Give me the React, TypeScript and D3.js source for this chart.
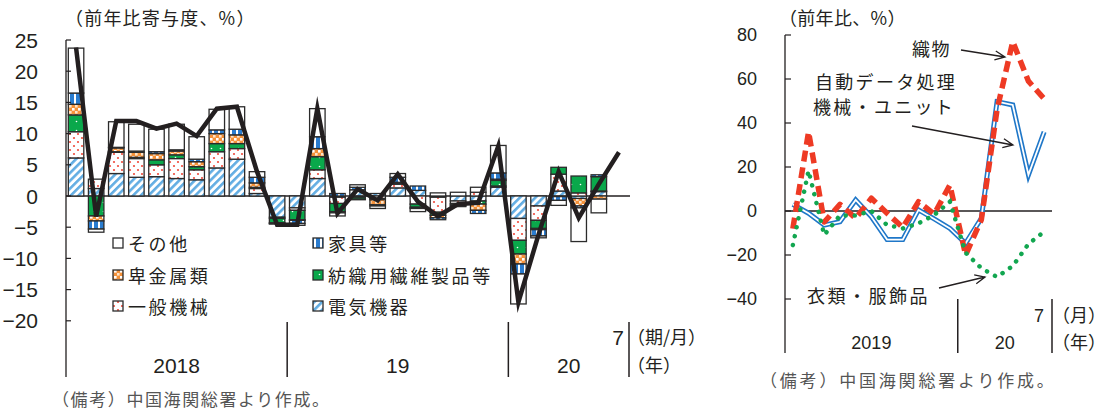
import React from "react";
import * as d3 from "d3";

// ---------- Left chart data (前年比寄与度, %) ----------
const periodsL = [
  "18/1-2", "18/3", "18/4", "18/5", "18/6", "18/7", "18/8", "18/9", "18/10", "18/11", "18/12",
  "19/1-2", "19/3", "19/4", "19/5", "19/6", "19/7", "19/8", "19/9", "19/10", "19/11", "19/12",
  "20/1-2", "20/3", "20/4", "20/5", "20/6", "20/7",
];
const yearsL = ["2018", "19", "20"];
const yearCountsL = [11, 11, 6];

// 電気機器
const elec = [6.1, 1.2, 3.6, 3.0, 3.1, 2.8, 2.6, 4.5, 5.9, 0.4, -3.4, -1.9, 2.8, -0.2, 1.0, 0.4, 1.3, 0.9, -0.2, -0.8, -0.8, 1.4, -3.6, -1.6, 0.8, -0.4, 0.7, 0];
// 一般機械
const mach = [4.2, 1.5, 3.4, 3.0, 1.9, 3.2, 1.6, 2.6, 1.7, 0.8, -0.2, -0.4, 1.4, -1.0, -0.2, -0.4, 0.6, -1.3, -2.4, -0.4, 0.6, 0.2, -3.5, -2.3, 2.7, 0.5, 0.1, 0];
// 紡織用繊維製品等
const textile = [2.7, -3.2, 0.1, 0.2, 0.8, 0.6, 0.5, 1.3, 0.8, 0.2, -0.7, -1.5, 2.1, -1.3, -0.3, -0.2, 0.1, -0.5, -0.5, -0.2, -0.5, 0.9, -2.2, -1.3, 1.1, 2.7, 2.3, 0];
// 卑金属類
const metal = [1.7, -0.8, 0.6, 0.8, 1.0, 0.6, 0.8, 1.6, 1.4, 0.7, -0.1, -0.1, 1.3, -0.2, -0.1, -0.8, 0.2, -0.2, -0.4, -0.2, -1.0, 0.2, -1.6, -0.2, -0.1, -1.2, -0.5, 0];
// 家具等
const furn = [1.8, -1.3, 0.1, 0.2, 0.3, 0.2, 0.4, 0.6, 0.9, 0.9, -0.1, -0.5, 1.9, 0.4, 0.4, -0.2, 0.8, 0.7, -0.3, -0.1, -0.5, 1.0, -1.6, -1.0, -0.6, -0.3, 0.3, 0];
// その他
const other = [7.2, -0.5, 4.1, 4.3, 3.6, 4.1, 3.6, 3.3, 3.6, 0.9, 0, -0.3, 4.5, -0.5, 0.4, -0.4, 0.6, -0.5, 0.5, 0.6, 0.8, 4.4, -4.8, -0.3, -0.8, -5.4, -2.2, 0];
// 合計 (line)
const totalL = [23.8, -3.3, 12.0, 12.0, 10.8, 11.6, 9.6, 14.0, 14.3, 3.9, -4.6, -4.6, 14.0, -2.8, 1.1, -0.7, 3.5, -0.9, -3.2, -1.3, -1.1, 8.0, -17.0, -6.2, 3.9, -3.5, 1.9, 7.0];
const ticksL = [-20, -15, -10, -5, 0, 5, 10, 15, 20, 25];

// ---------- Right chart data (前年比, %) ----------
const periodsR = [
  "19/1-2", "19/3", "19/4", "19/5", "19/6", "19/7", "19/8", "19/9", "19/10", "19/11", "19/12",
  "20/1-2", "20/3", "20/4", "20/5", "20/6", "20/7",
];
const yearsR = ["2019", "20"];
const yearCountsR = [11, 6];
const computers = [3, -1, -6.4, -4.9, 5, -2.6, -13, -13, 0.5, -3.6, -7.9, -14.7, -3.3, 49.7, 48.2, 16.4, 36];
const fabrics = [-8, 36, -5, 3, -3.3, 5.8, -1, -7.5, 4.2, -1.4, 11.8, -20, -4, 46, 77, 59, 51];
const clothing = [-15.5, 18.3, -10.9, -2, -2, 0, -6.4, -7.9, -5.6, -1.8, 4.2, -19, -26, -30, -25, -15, -9.4];
const ticksR = [-40, -20, 0, 20, 40, 60, 80];

const JP = "'Noto Sans CJK JP', 'Noto Sans', sans-serif";
const NUM = "'Liberation Sans', Arial, sans-serif";
const NUMN = "'Liberation Sans Narrow', 'Arial Narrow', 'Liberation Sans', sans-serif";
const INK = "#231f20";

const seriesKeys = ["elec", "mach", "textile", "metal", "furn", "other"];
const seriesFill: Record<string, string> = {
  elec: "url(#pElec)",
  mach: "url(#pMach)",
  textile: "url(#pGreen)",
  metal: "url(#pOrange)",
  furn: "url(#pBlue)",
  other: "#ffffff",
};

function arrowPath(x1: number, y1: number, x2: number, y2: number) {
  const a = Math.atan2(y2 - y1, x2 - x1);
  const L = 11, s = 0.42;
  const p1 = [x2 - L * Math.cos(a - s), y2 - L * Math.sin(a - s)];
  const p2 = [x2 - L * Math.cos(a + s), y2 - L * Math.sin(a + s)];
  return `M${x1},${y1}L${x2},${y2}M${p1[0]},${p1[1]}L${x2},${y2}L${p2[0]},${p2[1]}`;
}

export default function App() {
  // ---- left scales ----
  const xL = d3.scaleBand<string>().domain(periodsL).range([66, 629]).paddingInner(0.23).paddingOuter(0.115);
  const yL = d3.scaleLinear().domain([-20, 25]).range([320.8, 40]);
  const stepL = xL.step();
  const cx = (p: string) => (xL(p) as number) + xL.bandwidth() / 2;

  const rows = periodsL.map((p, i) => ({
    p, elec: elec[i], mach: mach[i], textile: textile[i], metal: metal[i], furn: furn[i], other: other[i],
  }));
  const stacked = d3.stack<any>().keys(seriesKeys).offset(d3.stackOffsetDiverging)(rows);

  const lineL = d3.line<number>().x((_, i) => cx(periodsL[i])).y((d) => yL(d));

  const boundsL: number[] = [66];
  let acc = 0;
  yearCountsL.forEach((n) => {
    acc += n;
    boundsL.push(cx(periodsL[acc - 1]) + stepL / 2);
  });

  // ---- right scales ----
  const xR = d3.scalePoint<string>().domain(periodsR).range([785, 1052]).padding(0.5);
  const yR = d3.scaleLinear().domain([-40, 80]).range([299, 35]);
  const stepR = xR.step();
  const lineR = d3.line<number>().x((_, i) => xR(periodsR[i]) as number).y((d) => yR(d));
  const boundsR: number[] = [785];
  acc = 0;
  yearCountsR.forEach((n) => {
    acc += n;
    boundsR.push((xR(periodsR[acc - 1]) as number) + stepR / 2);
  });

  const legendItems = [
    { key: "other", label: "その他", x: 113, y: 243 },
    { key: "metal", label: "卑金属類", x: 113, y: 275 },
    { key: "mach", label: "一般機械", x: 113, y: 306 },
    { key: "furn", label: "家具等", x: 313, y: 243 },
    { key: "textile", label: "紡織用繊維製品等", x: 313, y: 275 },
    { key: "elec", label: "電気機器", x: 313, y: 306 },
  ];

  const jpText = { fontFamily: JP, fontSize: 18, fill: INK };

  return (
    <svg
      width={1111}
      height={410}
      viewBox="0 0 1111 410"
      style={{ position: "absolute", left: 0, top: 0, background: "#fff" }}
    >
      <defs>
        <pattern id="pElec" patternUnits="userSpaceOnUse" width="5.5" height="5.5" patternTransform="rotate(45)">
          <rect width="5.5" height="5.5" fill="#fff" />
          <rect width="2.6" height="5.5" fill="#62ade3" />
        </pattern>
        <pattern id="pMach" patternUnits="userSpaceOnUse" width="8" height="8">
          <rect width="8" height="8" fill="#fff" />
          <circle cx="2" cy="2" r="1.1" fill="#ef4b3c" />
          <circle cx="6" cy="6" r="1.1" fill="#ef4b3c" />
        </pattern>
        <pattern id="pGreen" patternUnits="userSpaceOnUse" width="9" height="9">
          <rect width="9" height="9" fill="#0aa84b" />
          <circle cx="4.5" cy="4.5" r="0.8" fill="#fff" />
        </pattern>
        <pattern id="pOrange" patternUnits="userSpaceOnUse" width="6" height="6">
          <rect width="6" height="6" fill="#f5923a" />
          <rect x="0" y="0" width="2.6" height="2.6" fill="#fff" />
          <rect x="3" y="3" width="2.6" height="2.6" fill="#fde3c8" />
        </pattern>
        <pattern id="pBlue" patternUnits="userSpaceOnUse" width="6" height="6">
          <rect width="6" height="6" fill="#2a7ccf" />
          <rect x="2" width="2" height="6" fill="#fff" />
        </pattern>
      </defs>

      {/* ================= LEFT CHART ================= */}
      <text x={65} y={25} {...jpText} letterSpacing={1.2}>（前年比寄与度、%）</text>

      <line x1={66} x2={630} y1={yL(0)} y2={yL(0)} stroke={INK} strokeWidth={1.3} />

      {stacked.map((s: any) => (
        <g key={s.key}>
          {s.map((d: any, i: number) => {
            const y0 = yL(d[0]);
            const y1 = yL(d[1]);
            const h = Math.abs(y0 - y1);
            if (h < 0.01) return null;
            return (
              <rect
                key={i}
                x={xL(periodsL[i])}
                y={Math.min(y0, y1)}
                width={xL.bandwidth()}
                height={h}
                fill={seriesFill[s.key]}
                stroke="#2b2b2b"
                strokeWidth={1.3}
              />
            );
          })}
        </g>
      ))}

      <path d={lineL(totalL) as string} fill="none" stroke={INK} strokeWidth={4.5} strokeLinejoin="miter" strokeMiterlimit={6} />

      <line x1={66} x2={66} y1={yL(25)} y2={377} stroke={INK} strokeWidth={1.3} />
      {ticksL.map((t) => (
        <g key={t}>
          <line x1={66} x2={71} y1={yL(t)} y2={yL(t)} stroke={INK} strokeWidth={1.2} />
          <text x={38} y={yL(t)} textAnchor="end" dominantBaseline="central" fontFamily={NUMN} fontSize={21} fill={INK}>
            {t < 0 ? `−${-t}` : t}
          </text>
        </g>
      ))}

      {boundsL.slice(1).map((b, i) => (
        <line key={i} x1={b} x2={b} y1={322} y2={377} stroke={INK} strokeWidth={1.5} />
      ))}
      {yearsL.map((y, i) => (
        <text key={y} x={(boundsL[i] + boundsL[i + 1]) / 2} y={373} textAnchor="middle" fontFamily={NUMN} fontSize={21} fill={INK}>
          {y}
        </text>
      ))}
      <text x={boundsL[3] - 5} y={345} textAnchor="end" fontFamily={NUMN} fontSize={21} fill={INK}>7</text>
      <text x={627} y={344} {...jpText}>（期/月）</text>
      <text x={627} y={372} {...jpText}>（年）</text>

      {legendItems.map((it) => (
        <g key={it.key}>
          <rect x={it.x} y={it.y - 5} width={10} height={10} fill={seriesFill[it.key]} stroke="#2b2b2b" strokeWidth={1.3} />
          <text x={it.x + 15} y={it.y} dominantBaseline="central" {...jpText} letterSpacing={2.6}>
            {it.label}
          </text>
        </g>
      ))}

      <text x={52} y={406} fontFamily={JP} fontSize={17} fill="#555" letterSpacing={1.6}>
        （備考）中国海関総署より作成。
      </text>

      {/* ================= RIGHT CHART ================= */}
      <text x={779} y={25} {...jpText} letterSpacing={0.3}>（前年比、%）</text>

      <line x1={785} x2={1052} y1={yR(0)} y2={yR(0)} stroke={INK} strokeWidth={1.3} />

      <path d={lineR(computers) as string} fill="none" stroke="#1f77c8" strokeWidth={5} strokeLinejoin="miter" />
      <path d={lineR(computers) as string} fill="none" stroke="#fff" strokeWidth={1.8} strokeLinejoin="miter" />
      <path d={lineR(fabrics) as string} fill="none" stroke="#ee3a24" strokeWidth={5.5} strokeDasharray="11 6" strokeLinejoin="round" />
      <path d={lineR(clothing) as string} fill="none" stroke="#12a650" strokeWidth={4.5} strokeDasharray="0.1 9" strokeLinecap="round" />

      <line x1={785} x2={785} y1={yR(80)} y2={353} stroke={INK} strokeWidth={1.3} />
      {ticksR.map((t) => (
        <g key={t}>
          <line x1={785} x2={791} y1={yR(t)} y2={yR(t)} stroke={INK} strokeWidth={1.2} />
          <text x={757} y={yR(t)} textAnchor="end" dominantBaseline="central" fontFamily={NUM} fontSize={18} fill={INK}>
            {t < 0 ? `−${-t}` : t}
          </text>
        </g>
      ))}
      {boundsR.slice(1).map((b, i) => (
        <line key={i} x1={b} x2={b} y1={299} y2={353} stroke={INK} strokeWidth={1.5} />
      ))}
      {yearsR.map((y, i) => (
        <text key={y} x={(boundsR[i] + boundsR[i + 1]) / 2} y={349} textAnchor="middle" fontFamily={NUM} fontSize={18} fill={INK}>
          {y}
        </text>
      ))}
      <text x={boundsR[2] - 8} y={322} textAnchor="end" fontFamily={NUM} fontSize={18} fill={INK}>7</text>
      <text x={1052} y={322} {...jpText}>（月）</text>
      <text x={1052} y={349} {...jpText}>（年）</text>

      <text x={912} y={56} {...jpText} letterSpacing={1.5}>織物</text>
      <path d={arrowPath(961, 50, 1005, 57)} fill="none" stroke={INK} strokeWidth={1.3} />
      <text x={815} y={89} {...jpText} letterSpacing={2.3}>自動データ処理</text>
      <text x={813} y={114} {...jpText} letterSpacing={2.3}>機械・ユニット</text>
      <path d={arrowPath(912, 126, 1013, 145)} fill="none" stroke={INK} strokeWidth={1.3} />
      <text x={807} y={303} {...jpText} letterSpacing={2.5}>衣類・服飾品</text>
      <path d={arrowPath(939, 288, 985, 277)} fill="none" stroke={INK} strokeWidth={1.3} />

      <text x={760} y={387} fontFamily={JP} fontSize={17} fill="#555" letterSpacing={2.8}>
        （備考）中国海関総署より作成。
      </text>
    </svg>
  );
}
